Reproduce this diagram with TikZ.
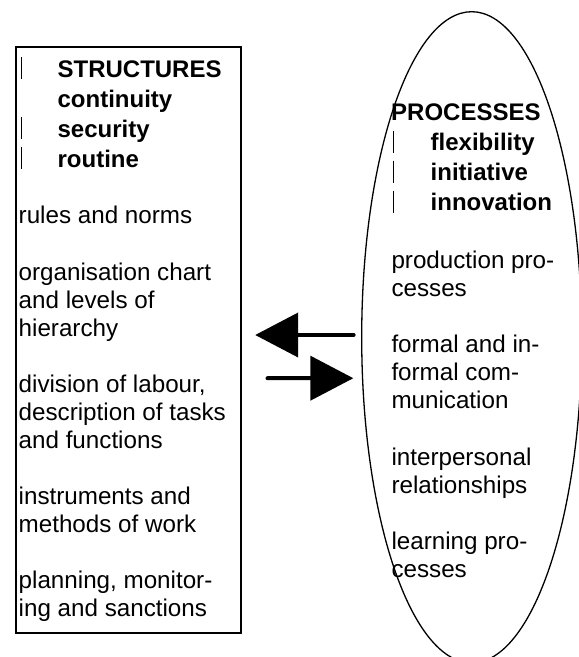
\documentclass[tikz,border=0pt]{standalone}
\usepackage{fontspec}
\setmainfont{Liberation Sans}
\usetikzlibrary{shapes.geometric,arrows.meta,calc}
\newcommand{\lines}[1]{\begin{tabular}[t]{@{}l@{}}#1\end{tabular}}
\begin{document}
\begin{tikzpicture}[x=1pt,y=-1pt,
  boxshape/.style={draw, line width=2pt, rectangle, minimum width=225.3pt, minimum height=586.1pt, inner sep=0pt},
  ellshape/.style={draw, line width=1.3pt, ellipse, minimum width=220pt, minimum height=651.2pt, inner sep=0pt},
  reg/.style={anchor=base west, inner sep=0pt, font=\fontsize{24.2}{28}\selectfont},
  bld/.style={anchor=base west, inner sep=0pt, font=\fontsize{24}{30}\selectfont\bfseries},
  barline/.style={line width=1.5pt},
  bigarrow/.style={line width=4pt, line cap=round, -{Triangle[length=43pt,width=44pt]}}
]
\useasboundingbox (0,0) rectangle (579,657);
\node[boxshape] (struct) at (128.15,340.35) {};
\node[ellshape] (proc) at (471.7,337.3) {};

% left column
\node[bld] (sT) at (57.4,77) {STRUCTURES};
\node[bld] (sC) at (57.4,107) {continuity};
\node[bld] (sS) at (57.4,137) {security};
\node[bld] (sR) at (57.4,167) {routine};
\node[reg] (s1) at (18.5,223.5) {rules and norms};
\node[reg] (s2) at (18.5,280) {\lines{organisation chart\\and levels of\\hierarchy}};
\node[reg] (s3) at (18.5,392) {\lines{division of labour,\\description of tasks\\and functions}};
\node[reg] (s4) at (18.5,504.5) {\lines{instruments and\\methods of work}};
\node[reg] (s5) at (18.5,588.5) {\lines{planning, monitor-\\ing and sanctions}};

\draw[barline] (21.7,57) -- (21.7,79);
\draw[barline] (21.7,117) -- (21.7,139);
\draw[barline] (21.7,147) -- (21.7,169);

% right column
\node[bld] (pT) at (391,120.3) {PROCESSES};
\node[bld] (pF) at (430.5,150.5) {flexibility};
\node[bld] (pI) at (430.5,180.5) {initiative};
\node[bld] (pN) at (430.5,210.5) {innovation};
\node[reg] (p1) at (391.3,268) {\lines{production pro-\\cesses}};
\node[reg] (p2) at (391.3,352.3) {\lines{formal and in-\\formal com-\\munication}};
\node[reg] (p3) at (391.3,465) {\lines{interpersonal\\relationships}};
\node[reg] (p4) at (391.3,549.4) {\lines{learning pro-\\cesses}};

\draw[barline] (393.5,130.5) -- (393.5,152.5);
\draw[barline] (393.5,160.5) -- (393.5,182.5);
\draw[barline] (393.5,190.5) -- (393.5,212.5);

% arrows
\draw[bigarrow] ($(proc.west)+(-7.4,-2.3)$) -- ($(struct.east)+(13.4,-5.35)$);
\draw[bigarrow] ($(struct.east)+(25.7,37.85)$) -- ($(proc.west)+(-7.7,40.9)$);
\end{tikzpicture}
\end{document}
